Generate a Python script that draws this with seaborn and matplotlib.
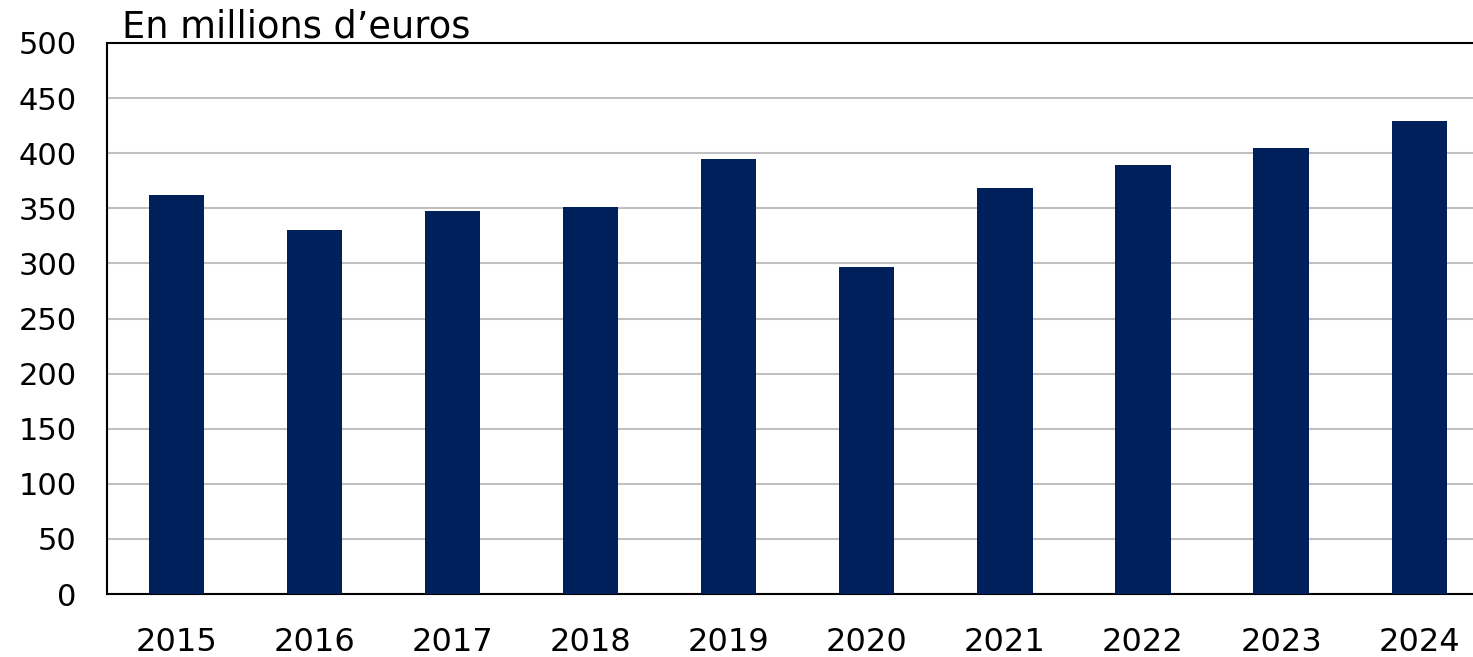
import matplotlib
matplotlib.use("Agg")
import matplotlib.pyplot as plt
import seaborn as sns
import pandas as pd

# valeurs (en millions d'euros)
annees = ["2015", "2016", "2017", "2018", "2019", "2020", "2021", "2022", "2023", "2024"]
valeurs = [362, 330, 348, 351, 395, 297, 368, 389, 405, 429]
graduations = [0, 50, 100, 150, 200, 250, 300, 350, 400, 450, 500]

df = pd.DataFrame({"annee": annees, "valeur": valeurs})

sns.set_style("white")
plt.rcParams["font.family"] = ["DejaVu Sans"]
plt.rcParams["text.color"] = "black"
plt.rcParams["xtick.color"] = "black"
plt.rcParams["ytick.color"] = "black"

fig = plt.figure(figsize=(14.73, 6.57), dpi=100)
ax = fig.add_axes([107 / 1473, 1 - 594 / 657, 1 - 107 / 1473, (594 - 43) / 657])

sns.barplot(data=df, x="annee", y="valeur", color="#00205B", width=0.4,
            saturation=1, linewidth=0, ax=ax, zorder=3)

ax.set_ylim(0, 500)
ax.set_yticks(graduations)
ax.set_xlim(-0.503, 9.39)
ax.yaxis.grid(True, color="#c0c0c0", linewidth=1.5, zorder=0)
ax.set_axisbelow(True)

for side in ["top", "left", "bottom"]:
    ax.spines[side].set_visible(True)
    ax.spines[side].set_color("black")
    ax.spines[side].set_linewidth(1.5)
ax.spines["right"].set_visible(False)

ax.tick_params(axis="y", length=0, pad=22, labelsize=22, labelcolor="black")
ax.tick_params(axis="x", length=0, pad=24, labelsize=23, labelcolor="black")
ax.set_xlabel("")
ax.set_ylabel("")

fig.text(122 / 1473, 1 - 37 / 657, "En millions d\u2019euros", fontsize=26.5,
         ha="left", va="baseline", color="black")

fig.savefig("out.png", dpi=100)
